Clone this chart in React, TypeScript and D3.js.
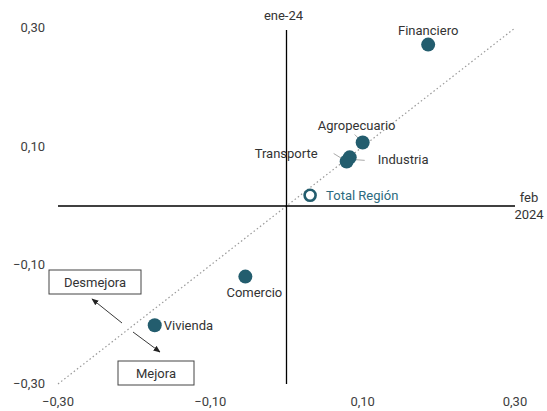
import * as d3 from "d3";

const sectors = ["Financiero", "Agropecuario", "Industria", "Transporte", "Comercio", "Vivienda"];
const janValues = [0.186, 0.1, 0.083, 0.079, -0.054, -0.173];
const febValues = [0.272, 0.107, 0.082, 0.075, -0.119, -0.201];
const totalRegion = { name: "Total Región", x: 0.031, y: 0.018 };
const ticks = [-0.3, -0.1, 0.1, 0.3];

const W = 547;
const H = 411;
const teal = "#235d6e";
const fs = 13;
const fmt = (v: number) => d3.format(".2f")(v).replace(".", ",");

export default function App() {
  const x = d3.scaleLinear().domain([-0.3, 0.3]).range([58, 515]);
  const y = d3.scaleLinear().domain([-0.3, 0.3]).range([384, 28]);

  const pts = sectors.map((s, i) => ({ name: s, x: janValues[i], y: febValues[i] }));
  const diag = d3.line<number>().x((d) => x(d)).y((d) => y(d));

  // label placement per sector: offset, anchor, optional leader line
  const labelPos: Record<string, { dx: number; dy: number; anchor: string; lead?: [number, number, number, number] }> = {
    Financiero: { dx: 0, dy: -10, anchor: "middle" },
    Agropecuario: { dx: -6, dy: -13, anchor: "middle", lead: [-8, -8, 0, 0] },
    Industria: { dx: 28, dy: 7, anchor: "start", lead: [1, 2, 15, 3] },
    Transporte: { dx: -29, dy: -4, anchor: "end", lead: [-13, -8, 0, 0] },
    Comercio: { dx: 9, dy: 20, anchor: "middle" },
    Vivienda: { dx: 9, dy: 4.5, anchor: "start" },
  };

  return (
    <svg width={W} height={H} style={{ position: "absolute", left: 0, top: 0, fontFamily: "Roboto, sans-serif" }}>
      <rect width={W} height={H} fill="#fff" />
      <path d={diag([-0.3, 0.3]) ?? ""} stroke="#999" strokeWidth={1.2} strokeDasharray="1.5,2.5" fill="none" />
      <line x1={x(-0.3)} x2={x(0.3)} y1={y(0)} y2={y(0)} stroke="#000" strokeWidth={1.3} />
      <line x1={x(0)} x2={x(0)} y1={y(0.3) + 2} y2={y(-0.3)} stroke="#000" strokeWidth={1.3} />
      {ticks.map((t) => (
        <text key={"y" + t} x={45} y={y(t) + 4} textAnchor="end" fontSize={fs} fill="#404040">
          {fmt(t)}
        </text>
      ))}
      {ticks.map((t) => (
        <text key={"x" + t} x={x(t)} y={406} textAnchor="middle" fontSize={fs} fill="#404040">
          {fmt(t)}
        </text>
      ))}
      <text x={x(0) - 3} y={20} textAnchor="middle" fontSize={fs} fill="#333">ene-24</text>
      <text x={529} y={202} textAnchor="middle" fontSize={fs} fill="#333">feb</text>
      <text x={529} y={219} textAnchor="middle" fontSize={fs} fill="#333">2024</text>

      {pts.map((p) => {
        const lp = labelPos[p.name];
        const cx = x(p.x);
        const cy = y(p.y);
        return (
          <g key={p.name}>
            {lp.lead && (
              <line
                x1={cx + lp.lead[0]}
                y1={cy + lp.lead[1]}
                x2={cx + lp.lead[2]}
                y2={cy + lp.lead[3]}
                stroke="#aaa"
                strokeWidth={1}
              />
            )}
            <circle cx={cx} cy={cy} r={7} fill={teal} />
            <text x={cx + lp.dx} y={cy + lp.dy} textAnchor={lp.anchor} fontSize={fs} fill="#333">
              {p.name}
            </text>
          </g>
        );
      })}
      <circle cx={x(totalRegion.x)} cy={y(totalRegion.y)} r={5.5} fill="#fff" stroke={teal} strokeWidth={2.6} />
      <text x={x(totalRegion.x) + 16} y={y(totalRegion.y) + 4.5} fontSize={fs} fill="#2d6a7e">
        {totalRegion.name}
      </text>

      <defs>
        <marker id="ah" viewBox="0 0 10 10" refX={9} refY={5} markerWidth={8} markerHeight={8} orient="auto">
          <path d="M0,1 L10,5 L0,9 z" fill="#222" />
        </marker>
      </defs>
      <line x1={122} y1={323} x2={92} y2={299} stroke="#222" strokeWidth={0.9} markerEnd="url(#ah)" />
      <line x1={133} y1={332} x2={160} y2={352} stroke="#222" strokeWidth={0.9} markerEnd="url(#ah)" />

      <rect x={49} y={270} width={92} height={24} fill="#fff" stroke="#444" strokeWidth={1} />
      <text x={95} y={287} textAnchor="middle" fontSize={fs} fill="#333">Desmejora</text>
      <rect x={118} y={361} width={76} height={24} fill="#fff" stroke="#444" strokeWidth={1} />
      <text x={156} y={378} textAnchor="middle" fontSize={fs} fill="#333">Mejora</text>
    </svg>
  );
}
